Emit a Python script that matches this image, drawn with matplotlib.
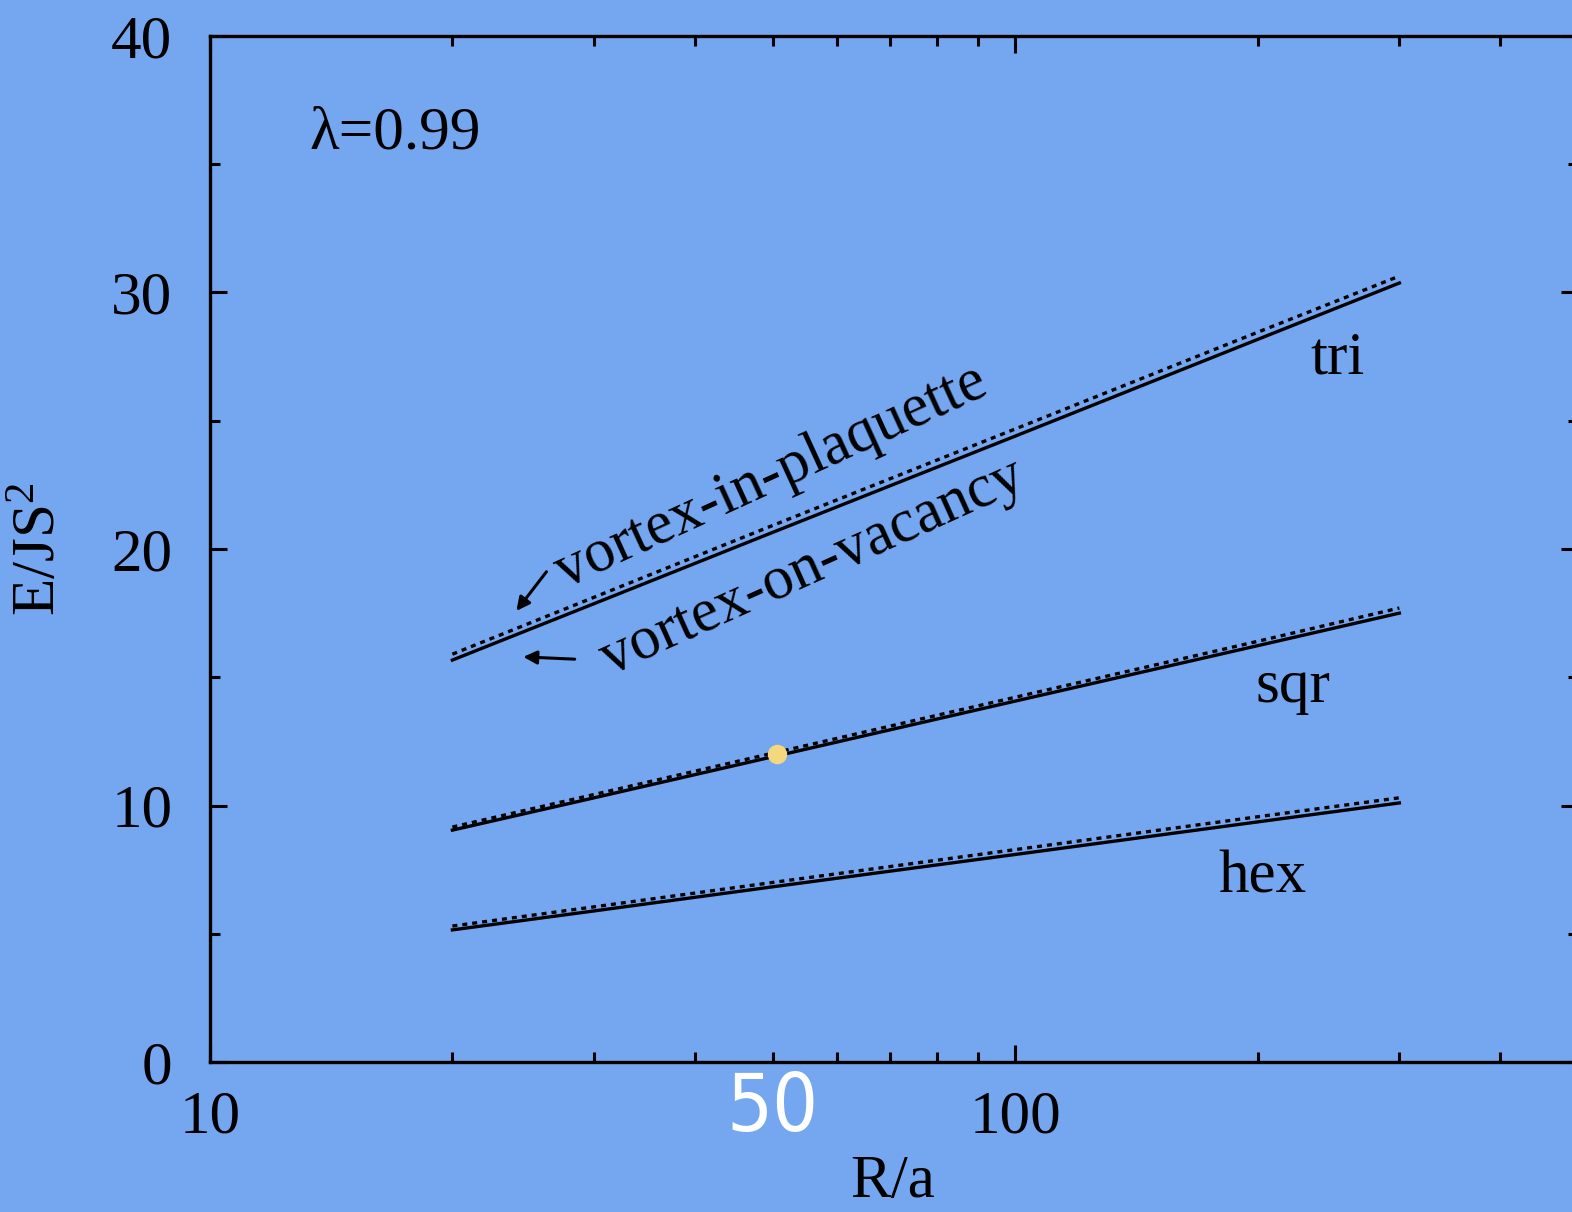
import numpy as np
import matplotlib
matplotlib.use("Agg")
import matplotlib.pyplot as plt

# R/a sample points, energies E/JS^2
R = [20, 30, 50, 100, 200, 300]
tri_vac = [15.67, 17.87, 20.65, 24.40, 28.17, 30.37]
tri_plaq = [15.90, 18.12, 20.92, 24.68, 28.45, 30.64]
sqr_vac = [9.04, 10.30, 11.90, 14.07, 16.23, 17.50]
sqr_plaq = [9.16, 10.43, 12.04, 14.22, 16.40, 17.70]
hex_vac = [5.15, 5.89, 6.83, 8.09, 9.36, 10.10]
hex_plaq = [5.30, 6.05, 7.00, 8.28, 9.56, 10.30]

xticks = [10, 100]
yticks = [0, 10, 20, 30, 40]

bg = '#75a7f0'
fs = 44
plt.rcParams['font.family'] = ['Liberation Serif', 'DejaVu Serif']
plt.rcParams['mathtext.fontset'] = 'custom'
plt.rcParams['mathtext.rm'] = 'Liberation Serif'
plt.rcParams['mathtext.it'] = 'Liberation Serif'

fig = plt.figure(figsize=(15.72, 12.12), dpi=100, facecolor=bg)
ax = fig.add_axes([210/1572, 150/1212, 1368/1572, 1026/1212])
ax.set_facecolor(bg)

for vac, plaq in [(tri_vac, tri_plaq), (sqr_vac, sqr_plaq), (hex_vac, hex_plaq)]:
    ax.plot(R, vac, color='black', lw=2.4, ls='-')
    ax.plot(R, plaq, color='black', lw=2.4, ls=(0, (1.5, 1.5)))

ax.set_xscale('log')
ax.set_xlim(10, 500)
ax.set_ylim(0, 40)
ax.set_xticks(xticks)
ax.set_xticklabels([str(t) for t in xticks])
ax.set_xticks([20, 30, 40, 50, 60, 70, 80, 90, 200, 300, 400], minor=True)
ax.set_xticklabels([], minor=True)
ax.set_yticks(yticks)
ax.set_yticks([5, 15, 25, 35], minor=True)

for s in ax.spines.values():
    s.set_linewidth(2.4)
ax.tick_params(which='both', direction='in', top=True, right=True, width=2.2,
               labelsize=fs)
ax.tick_params(which='major', length=12)
ax.tick_params(which='minor', length=7)
ax.tick_params(axis='y', pad=27)
ax.tick_params(axis='x', pad=20)

ax.set_xlabel('R/a', fontsize=fs)
ax.xaxis.set_label_coords(0.499, -0.090)
ax.set_ylabel(r'E/JS$^2$', fontsize=fs)
ax.yaxis.set_label_coords(-0.104, 0.50)

ax.text(17.0, 36.2, 'λ=0.99', fontsize=fs, va='center', ha='center')
ax.text(251, 27.4, 'tri', fontsize=fs, ha='center', va='center')
ax.text(221, 14.6, 'sqr', fontsize=fs, ha='center', va='center')
ax.text(203, 7.2, 'hex', fontsize=fs, ha='center', va='center')

ax.text(49.8, 22.8, 'vortex-in-plaquette', fontsize=fs, rotation=24.6,
        rotation_mode='anchor', ha='center', va='center')
ax.text(56.0, 19.26, 'vortex-on-vacancy', fontsize=fs, rotation=24.2,
        rotation_mode='anchor', ha='center', va='center')
ax.annotate('', xy=(23.9, 17.5), xytext=(26.3, 19.2),
            arrowprops=dict(arrowstyle='-|>', color='black', lw=2.2, mutation_scale=20))
ax.annotate('', xy=(24.3, 15.8), xytext=(28.6, 15.7),
            arrowprops=dict(arrowstyle='-|>', color='black', lw=2.2, mutation_scale=20))

# overlay marker and label
ax.plot([50.6], [12.0], 'o', color='#f5d77e', ms=13, zorder=5)
ax.text(50, -1.85, '50', fontsize=58, color='white', ha='center', va='center',
        family='DejaVu Sans', fontstretch='condensed', clip_on=False)

fig.savefig('out.png', dpi=100, facecolor=bg)
